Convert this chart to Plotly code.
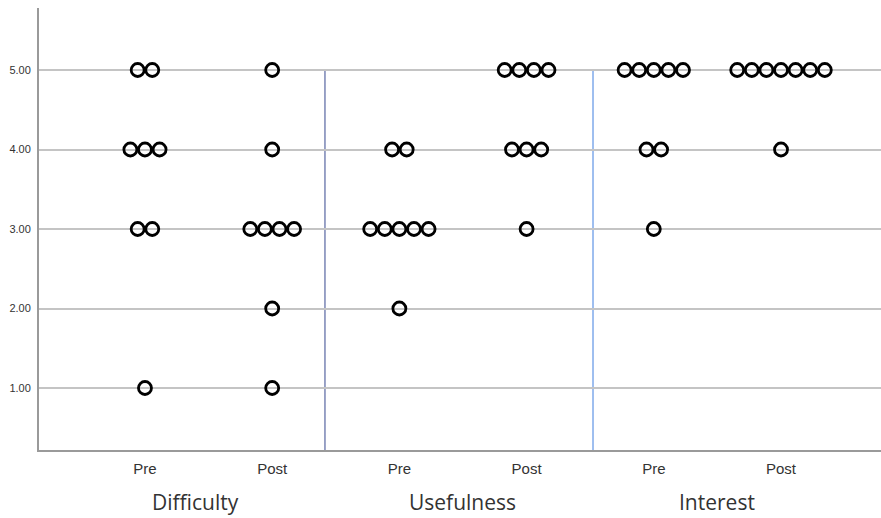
import plotly.graph_objects as go

categories = ["Pre", "Post", "Pre", "Post", "Pre", "Post"]
groups = ["Difficulty", "Usefulness", "Interest"]
ytick_vals = [1, 2, 3, 4, 5]
ytick_text = ["1.00", "2.00", "3.00", "4.00", "5.00"]

difficulty_pre = [5, 5, 4, 4, 4, 3, 3, 1]
difficulty_post = [5, 4, 3, 3, 3, 3, 2, 1]
usefulness_pre = [4, 4, 3, 3, 3, 3, 3, 2]
usefulness_post = [5, 5, 5, 5, 4, 4, 4, 3]
interest_pre = [5, 5, 5, 5, 5, 4, 4, 3]
interest_post = [5, 5, 5, 5, 5, 5, 5, 4]

series = [difficulty_pre, difficulty_post, usefulness_pre,
          usefulness_post, interest_pre, interest_post]

X_MIN, X_MAX = -0.833, 5.786
Y_MIN, Y_MAX = 0.22, 5.78
W, H = 881, 518
ML, MR, MT, MB = 39, 0, 8, 68
px_per_unit = (W - ML - MR) / (X_MAX - X_MIN)
dot_px = 14.6
step = dot_px / px_per_unit

xs, ys = [], []
for i, vals in enumerate(series):
    for v in sorted(set(vals)):
        n = vals.count(v)
        for k in range(n):
            xs.append(i + (k - (n - 1) / 2) * step)
            ys.append(v)

fig = go.Figure()
fig.add_trace(go.Scatter(
    x=xs, y=ys, mode="markers",
    marker=dict(symbol="circle-open", size=13, color="black",
                line=dict(color="black", width=2.8)),
    hoverinfo="skip", showlegend=False, cliponaxis=False))

# separators
sep_colors = ["#35478f", "#3f7fe0"]
for sx, c in zip([1.415, 3.522], sep_colors):
    fig.add_shape(type="line", x0=sx, x1=sx, y0=Y_MIN, y1=5,
                  xref="x", yref="y", line=dict(color=c, width=1), layer="below")

# group labels
for gx, g in zip([0.40, 2.5, 4.5], groups):
    fig.add_annotation(x=gx, y=-0.118, xref="x", yref="paper", text=g,
                       showarrow=False, font=dict(size=21, color="#333333",
                                                  family="Open Sans"),
                       yanchor="middle")

fig.update_layout(
    width=W, height=H,
    margin=dict(l=ML, r=MR, t=MT, b=MB, autoexpand=False),
    plot_bgcolor="white", paper_bgcolor="white",
    font=dict(family="Liberation Sans, Arial", color="#444444"),
    xaxis=dict(range=[X_MIN, X_MAX], tickmode="array",
               tickvals=list(range(6)), ticktext=categories,
               showgrid=False, zeroline=False, showline=True,
               linecolor="#9a9a9a", linewidth=2, ticks="",
               ticklabelstandoff=4, automargin=False,
               tickfont=dict(size=15, color="#333333", family="Liberation Sans")),
    yaxis=dict(range=[Y_MIN, Y_MAX], tickmode="array",
               tickvals=ytick_vals, ticktext=ytick_text,
               showgrid=True, gridcolor="#c4c4c4", gridwidth=1.5,
               zeroline=False, showline=True, linecolor="#9a9a9a",
               linewidth=2, ticks="", ticklabelstandoff=4, automargin=False,
               tickfont=dict(size=11, color="#333333", family="Liberation Sans")),
)

fig.write_html("out.html", config={"displayModeBar": False},
               post_script="document.body.style.margin='0';document.body.style.padding='0';")
